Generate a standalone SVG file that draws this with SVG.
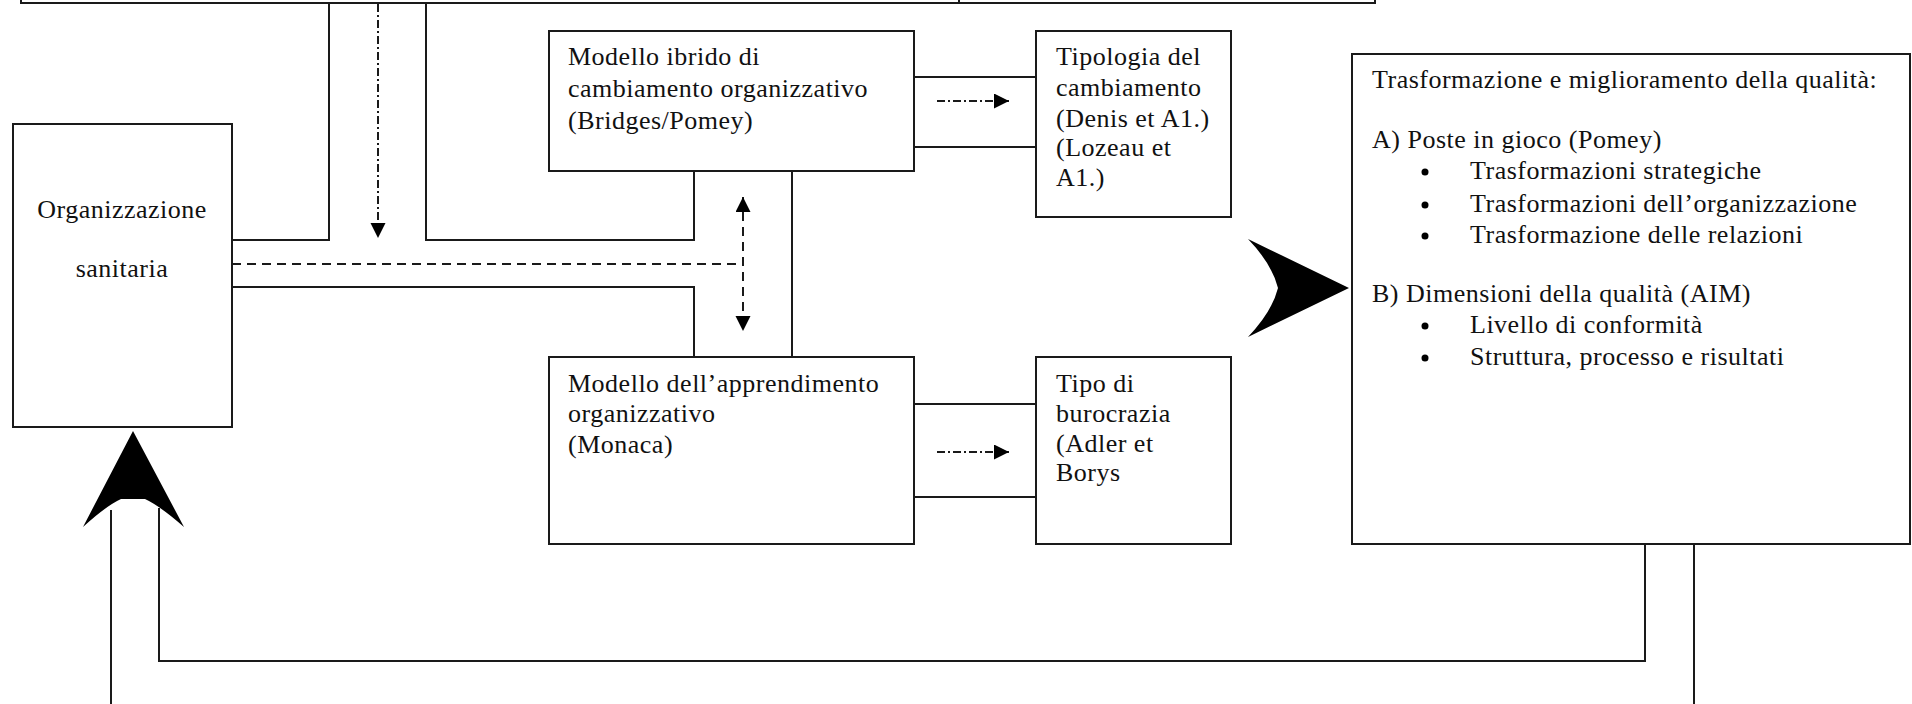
<svg xmlns="http://www.w3.org/2000/svg" width="1912" height="704" viewBox="0 0 1912 704">
<style>
.box{fill:#fff;stroke:#1a1a1a;stroke-width:2}
.ln{fill:none;stroke:#1a1a1a;stroke-width:2}
.dash{fill:none;stroke:#1a1a1a;stroke-width:2;stroke-dasharray:9 6}
.dd{fill:none;stroke:#1a1a1a;stroke-width:2;stroke-dasharray:8 3 2 3}
.t{font-family:"Liberation Serif","Times New Roman",serif;font-size:26px;letter-spacing:0.5px;fill:#111}
.big{fill:#000}
</style>
<defs>
<marker id="ah" markerUnits="userSpaceOnUse" markerWidth="16" markerHeight="16" refX="15" refY="7.5" orient="auto-start-reverse">
<path d="M0,0 L15,7.5 L0,15 z" fill="#000"/>
</marker>
</defs>
<rect width="1912" height="704" fill="#fff"/>

<g id="top-box">
<rect class="box" x="21" y="-20" width="1354" height="23"/>
<line class="ln" x1="959" y1="-20" x2="959" y2="3"/>
</g>

<g id="connectors">
<path class="ln" d="M329,3 V240 H232"/>
<path class="ln" d="M426,3 V240 H694 V171"/>
<path class="dd" d="M378,4 V238" marker-end="url(#ah)"/>
<path class="dash" d="M232,264 H743"/>
<path class="dash" d="M743,197 V331" marker-start="url(#ah)" marker-end="url(#ah)"/>
<path class="ln" d="M232,287 H694 V357"/>
<path class="ln" d="M792,171 V357"/>
<path class="ln" d="M914,77 H1036 M914,147 H1036"/>
<path class="dd" d="M937,101 H1009" marker-end="url(#ah)"/>
<path class="ln" d="M914,404 H1036 M914,497 H1036"/>
<path class="dd" d="M937,452 H1009" marker-end="url(#ah)"/>
<path class="ln" d="M1645,544 V661 H159 V508"/>
<path class="ln" d="M1694,544 V704"/>
<path class="ln" d="M111,510 V704"/>
<path class="big" d="M1349,288 L1248,239 Q1272,264 1278,288 Q1272,312 1248,337 Z"/>
<path class="big" d="M133,431 L184,527 Q160,506 145,499 L121,499 Q106,506 83,527 Z"/>
</g>

<g id="organizzazione">
<rect class="box" x="13" y="124" width="219" height="303"/>
<text class="t" x="122" y="218" text-anchor="middle">Organizzazione</text>
<text class="t" x="122" y="277" text-anchor="middle">sanitaria</text>
</g>

<g id="modello-ibrido">
<rect class="box" x="549" y="31" width="365" height="140"/>
<text class="t" x="568" y="65">Modello ibrido di</text>
<text class="t" x="568" y="97">cambiamento organizzativo</text>
<text class="t" x="568" y="129">(Bridges/Pomey)</text>
</g>

<g id="tipologia">
<rect class="box" x="1036" y="31" width="195" height="186"/>
<text class="t" x="1056" y="65">Tipologia del</text>
<text class="t" x="1056" y="96">cambiamento</text>
<text class="t" x="1056" y="127">(Denis et A1.)</text>
<text class="t" x="1056" y="156">(Lozeau et</text>
<text class="t" x="1056" y="186">A1.)</text>
</g>

<g id="modello-apprendimento">
<rect class="box" x="549" y="357" width="365" height="187"/>
<text class="t" x="568" y="392">Modello dell’apprendimento</text>
<text class="t" x="568" y="422">organizzativo</text>
<text class="t" x="568" y="453">(Monaca)</text>
</g>

<g id="tipo-burocrazia">
<rect class="box" x="1036" y="357" width="195" height="187"/>
<text class="t" x="1056" y="392">Tipo di</text>
<text class="t" x="1056" y="422">burocrazia</text>
<text class="t" x="1056" y="452">(Adler et</text>
<text class="t" x="1056" y="481">Borys</text>
</g>

<g id="trasformazione">
<rect class="box" x="1352" y="54" width="558" height="490"/>
<text class="t" x="1372" y="88">Trasformazione e miglioramento della qualità:</text>
<text class="t" x="1372" y="148">A) Poste in gioco (Pomey)</text>
<circle cx="1425" cy="172" r="3.5" fill="#000"/>
<text class="t" x="1470" y="179">Trasformazioni strategiche</text>
<circle cx="1425" cy="205" r="3.5" fill="#000"/>
<text class="t" x="1470" y="212">Trasformazioni dell’organizzazione</text>
<circle cx="1425" cy="236" r="3.5" fill="#000"/>
<text class="t" x="1470" y="243">Trasformazione delle relazioni</text>
<text class="t" x="1372" y="302">B) Dimensioni della qualità (AIM)</text>
<circle cx="1425" cy="326" r="3.5" fill="#000"/>
<text class="t" x="1470" y="333">Livello di conformità</text>
<circle cx="1425" cy="358" r="3.5" fill="#000"/>
<text class="t" x="1470" y="365">Struttura, processo e risultati</text>
</g>
</svg>
